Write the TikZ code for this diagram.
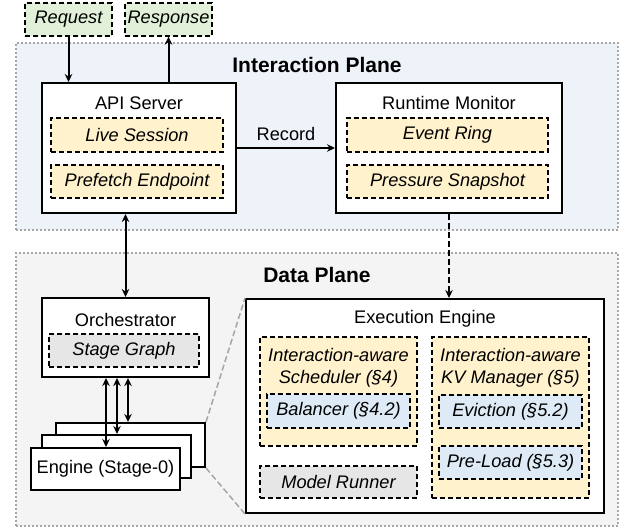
\documentclass[tikz,border=0pt]{standalone}
\usepackage{fontspec}
\setmainfont{Liberation Sans}
\usetikzlibrary{arrows.meta,calc}
\definecolor{cgreen}{HTML}{E2F0D9}
\definecolor{corange}{HTML}{FFF2CC}
\definecolor{cblue}{HTML}{DEEBF7}
\definecolor{cgray}{HTML}{E7E6E6}
\definecolor{ciplane}{HTML}{EEF2F9}
\definecolor{cdplane}{HTML}{F4F4F4}
\definecolor{cdot}{HTML}{A6A6A6}
\tikzset{
  x=1pt,y=-1pt,
  every node/.style={font=\fontsize{18.2}{22}\selectfont, inner sep=0pt},
  plane/.style={draw=cdot, line width=2pt, dash pattern=on 2pt off 2pt, rectangle},
  bigbox/.style={draw=black, line width=2pt, fill=white, rectangle},
  dbox/.style={draw=black, line width=1.3pt, dash pattern=on 5pt off 3pt, rectangle, font=\fontsize{18.2}{22}\selectfont\itshape, align=center},
  title/.style={font=\fontsize{21}{24}\selectfont\bfseries},
  arr/.style={line width=2pt, -{Stealth[length=8pt,width=7.5pt]}},
  darr/.style={line width=2pt, {Stealth[length=8pt,width=7.5pt]}-{Stealth[length=8pt,width=7.5pt]}},
  zoomline/.style={draw=cdot, line width=1.5pt, dash pattern=on 6pt off 3pt},
}
\begin{document}
\begin{tikzpicture}
\useasboundingbox (0,0) rectangle (625,531);
% planes
\node[plane, fill=ciplane, minimum width=602, minimum height=187] (ip) at (317,136.5) {};
\node[plane, fill=cdplane, minimum width=602, minimum height=273] (dp) at (317,389.5) {};
\node[title] (iptitle) at (317,65) {Interaction Plane};
\node[title] (dptitle) at (317,275) {Data Plane};
% request/response
\node[dbox, fill=cgreen, minimum width=87, minimum height=33] (req) at (68.5,19.5) {Request};
\node[dbox, fill=cgreen, minimum width=87, minimum height=33] (resp) at (168.5,19.5) {Response};
% API server
\node[bigbox, minimum width=194, minimum height=130] (api) at (139,148) {};
\node (apit) at (139,103) {API Server};
\node[dbox, fill=corange, minimum width=172, minimum height=34] (live) at (137,135) {Live Session};
\node[dbox, fill=corange, minimum width=172, minimum height=33] (pref) at (137,181.5) {Prefetch Endpoint};
% Runtime monitor
\node[bigbox, minimum width=226, minimum height=130] (rt) at (449,148) {};
\node (rtt) at (449,103) {Runtime Monitor};
\node[dbox, fill=corange, minimum width=201, minimum height=34] (ring) at (447.5,135) {Event Ring};
\node[dbox, fill=corange, minimum width=201, minimum height=33] (snap) at (447.5,181.5) {Pressure Snapshot};
% Orchestrator
\node[bigbox, minimum width=167, minimum height=79] (orch) at (125.5,337.5) {};
\node (orcht) at (125.5,320) {Orchestrator};
\node[dbox, fill=cgray, minimum width=150, minimum height=33] (sg) at (124,350.5) {Stage Graph};
% engines
\node[bigbox, minimum width=149, minimum height=44] (e3) at (130.5,445) {};
\node[bigbox, minimum width=149, minimum height=43] (e2) at (116.5,456.5) {};
\node[bigbox, minimum width=149, minimum height=42] (e1) at (105.5,469) {Engine (Stage-0)};
% Execution engine
\node[bigbox, minimum width=358, minimum height=214] (ex) at (425,406) {};
\node (ext) at (425,319) {Execution Engine};
\node[dbox, fill=corange, minimum width=157, minimum height=109] (sch) at (338.5,391.5) {};
\node[font=\fontsize{18.2}{22}\selectfont\itshape, align=center] (scht) at (338.5,368) {Interaction-aware\\Scheduler (§4)};
\node[dbox, fill=cblue, minimum width=143, minimum height=34] (bal) at (338.5,411) {Balancer (§4.2)};
\node[dbox, fill=cgray, minimum width=157, minimum height=32] (mr) at (338.5,482) {Model Runner};
\node[dbox, fill=corange, minimum width=157, minimum height=161] (kv) at (510.5,417.5) {};
\node[font=\fontsize{18.2}{22}\selectfont\itshape, align=center] (kvt) at (510.5,368) {Interaction-aware\\KV Manager (§5)};
\node[dbox, fill=cblue, minimum width=143, minimum height=33] (ev) at (510.5,411.5) {Eviction (§5.2)};
\node[dbox, fill=cblue, minimum width=143, minimum height=33] (pl) at (510.5,462.5) {Pre-Load (§5.3)};
% zoom lines
\draw[zoomline] (e3.north east) -- (ex.north west);
\draw[zoomline] (e3.south east) -- (ex.south west);
% connectors
\draw[arr] (req.south) -- (req.south |- api.north);
\draw[arr] (resp.south |- api.north) -- (resp.south);
\draw[arr] (api.east) -- node[above=6pt] (reclbl) {Record} (rt.west);
\draw[darr] (orch.north |- api.south) -- (orch.north);
\draw[arr, dash pattern=on 6pt off 3pt] (rt.south) -- (rt.south |- ex.north);
\coordinate (o1) at ($(orch.south)+(-19.5,0)$);
\coordinate (o2) at ($(orch.south)+(-8.5,0)$);
\coordinate (o3) at ($(orch.south)+(2.5,0)$);
\draw[darr] (o1) -- (o1 |- e1.north);
\draw[darr] (o2) -- (o2 |- e2.north);
\draw[darr] (o3) -- (o3 |- e3.north);
\end{tikzpicture}
\end{document}
